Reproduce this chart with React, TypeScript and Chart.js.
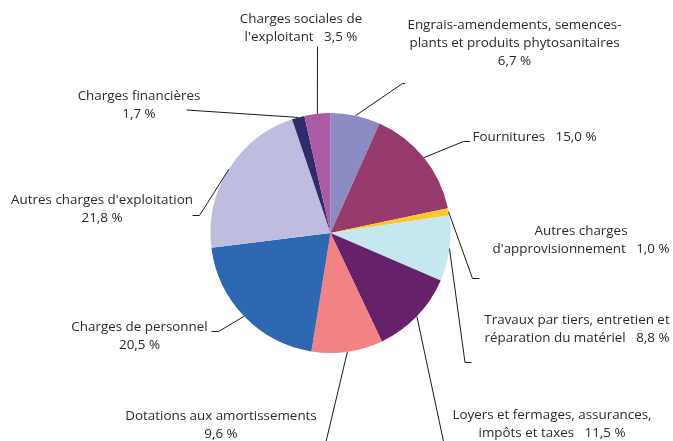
import React, { useEffect, useRef } from "react";
import { Chart, registerables } from "chart.js";

Chart.register(...registerables);

// ---- Data (clockwise from 12 o'clock) ----
const categories: string[] = [
  "Engrais-amendements, semences-plants et produits phytosanitaires",
  "Fournitures",
  "Autres charges d'approvisionnement",
  "Travaux par tiers, entretien et réparation du matériel",
  "Loyers et fermages, assurances, impôts et taxes",
  "Dotations aux amortissements",
  "Charges de personnel",
  "Autres charges d'exploitation",
  "Charges financières",
  "Charges sociales de l'exploitant",
];

const shares: number[] = [6.7, 15.0, 1.0, 8.8, 11.5, 9.6, 20.5, 21.8, 1.7, 3.5];

const colors: string[] = [
  "#8d8bc4",
  "#96396d",
  "#fcc72a",
  "#c4e7f0",
  "#66216a",
  "#f28284",
  "#2e68b2",
  "#bfbddf",
  "#2f2b6c",
  "#ab5aa6",
];

// Label text lines; {v} is replaced by the formatted value
const labelLines: string[][] = [
  ["Engrais-amendements, semences-", "plants et produits phytosanitaires", "{v}"],
  ["Fournitures   {v}"],
  ["Autres charges", "d'approvisionnement   {v}"],
  ["Travaux par tiers, entretien et", "réparation du matériel   {v}"],
  ["Loyers et fermages, assurances,", "impôts et taxes   {v}"],
  ["Dotations aux amortissements", "{v}"],
  ["Charges de personnel", "{v}"],
  ["Autres charges d'exploitation", "{v}"],
  ["Charges financières", "{v}"],
  ["Charges sociales de", "l'exploitant   {v}"],
];

// ---- Label layout (leader-line elbows and text anchors, in canvas px) ----
type Layout = { path: [number, number][]; tx: number; ty: number; align: CanvasTextAlign };
const labelLayout: Layout[] = [
  { path: [[402.5, 83.5], [405, 83.5]], tx: 514.5, ty: 25, align: "center" },
  { path: [[463.5, 141.5], [470, 141.5]], tx: 472.5, ty: 137.5, align: "left" },
  { path: [[472.5, 278.5], [479.5, 278.5]], tx: 581, ty: 231.5, align: "center" },
  { path: [[465, 362.5], [471.5, 362.5]], tx: 577, ty: 320.5, align: "center" },
  { path: [[444.5, 446]], tx: 552, ty: 415, align: "center" },
  { path: [[325, 446]], tx: 221, ty: 416.5, align: "center" },
  { path: [[218.5, 331.5], [211.5, 331.5]], tx: 139.5, ty: 327, align: "center" },
  { path: [[199.5, 215.5], [192.5, 215.5]], tx: 102, ty: 200.5, align: "center" },
  { path: [[186.5, 110]], tx: 139, ty: 96, align: "center" },
  { path: [[317.5, 46.5]], tx: 301, ty: 19, align: "center" },
];

const FONT = "13.4px 'Open Sans'";
const fmt = (v: number) => v.toFixed(1).replace(".", ",") + " %";

const leaderLabels = {
  id: "leaderLabels",
  afterDatasetsDraw(chart: any) {
    const meta = chart.getDatasetMeta(0);
    const ctx: CanvasRenderingContext2D = chart.ctx;
    ctx.save();
    meta.data.forEach((arc: any, i: number) => {
      const p = arc.getProps(["x", "y", "startAngle", "endAngle", "outerRadius"], true);
      const mid = (p.startAngle + p.endAngle) / 2;
      const ax = p.x + Math.cos(mid) * p.outerRadius;
      const ay = p.y + Math.sin(mid) * p.outerRadius;
      const L = labelLayout[i];
      ctx.strokeStyle = "#1a1a1a";
      ctx.lineWidth = 1;
      ctx.beginPath();
      ctx.moveTo(ax, ay);
      L.path.forEach(([px, py]) => ctx.lineTo(px, py));
      ctx.stroke();

      ctx.fillStyle = "#2b2b2b";
      ctx.font = FONT;
      ctx.textAlign = L.align;
      ctx.textBaseline = "middle";
      labelLines[i].forEach((line, k) => {
        ctx.fillText(line.replace("{v}", fmt(shares[i])), L.tx, L.ty + k * 18);
      });
    });
    ctx.restore();
  },
};

export default function App() {
  const ref = useRef<HTMLCanvasElement | null>(null);
  useEffect(() => {
    let chart: Chart | null = null;
    let cancelled = false;
    const make = () => {
      if (cancelled || !ref.current) return;
      chart = new Chart(ref.current, {
        type: "pie",
        data: {
          labels: categories,
          datasets: [
            {
              data: shares,
              backgroundColor: colors,
              borderWidth: 0,
            },
          ],
        },
        options: {
          responsive: false,
          animation: false,
          radius: 120,
          layout: { padding: { left: 0, right: 12, top: 25, bottom: 0 } },
          plugins: {
            legend: { display: false },
            tooltip: { enabled: false },
          },
        } as any,
        plugins: [leaderLabels],
      });
    };
    const fonts = (document as any).fonts;
    if (fonts && fonts.load) {
      fonts.load(FONT).then(make, make);
    } else {
      make();
    }
    return () => {
      cancelled = true;
      if (chart) chart.destroy();
    };
  }, []);
  return (
    <div style={{ position: "absolute", left: 0, top: 0, width: 673, height: 441, background: "#fff" }}>
      <canvas ref={ref} width={673} height={441} />
    </div>
  );
}
